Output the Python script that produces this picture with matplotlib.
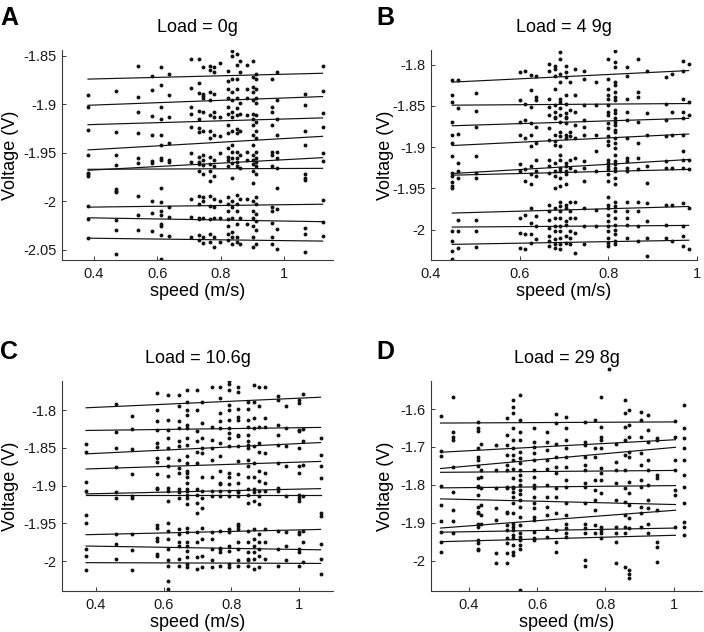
import matplotlib
matplotlib.use('Agg')
import matplotlib.pyplot as plt
from matplotlib.ticker import FuncFormatter

plt.rcParams['font.family'] = ['Liberation Sans', 'DejaVu Sans']
plt.rcParams['axes.unicode_minus'] = False

# ---------------- Panel A : Load = 0g ----------------
A_SPEED = [0.382, 0.47, 0.54, 0.584, 0.613, 0.636, 0.708, 0.731, 0.746, 0.768, 0.778,
           0.799, 0.825, 0.836, 0.852, 0.862, 0.883, 0.902, 0.912, 0.962, 0.978, 1.065, 1.122]
A_VOLT = [
    [-1.890, -1.903, -1.926, -1.952, -1.971, -1.972, -1.974, -2.005, -2.018, -2.038],
    [-1.886, -1.929, -1.952, -1.963, -1.987, -1.989, -1.990, -2.019, -2.030, -2.054],
    [-1.861, -1.892, -1.908, -1.930, -1.955, -1.960, -1.995, -2.014, -2.030],
    [-1.871, -1.885, -1.912, -1.932, -1.958, -1.960, -2.000, -2.012, -2.031],
    [-1.862, -1.880, -1.903, -1.915, -1.932, -1.942, -1.955, -1.957, -1.986, -2.001, -2.010,
     -2.014, -2.023, -2.025, -2.035, -2.059],
    [-1.869, -1.890, -1.913, -1.940, -1.957, -1.959, -2.006, -2.016, -2.036],
    [-1.853, -1.883, -1.903, -1.910, -1.923, -1.950, -1.959, -1.998, -2.016, -2.037],
    [-1.853, -1.878, -1.888, -1.907, -1.915, -1.924, -1.929, -1.954, -1.959, -1.962, -1.969,
     -1.995, -2.003, -2.017, -2.018, -2.035, -2.040],
    [-1.862, -1.889, -1.891, -1.894, -1.908, -1.927, -1.952, -1.957, -1.963, -1.972, -1.996,
     -2.000, -2.017, -2.037, -2.043],
    [-1.860, -1.865, -1.887, -1.896, -1.911, -1.928, -1.935, -1.954, -1.962, -1.969, -1.979,
     -1.995, -2.005, -2.018, -2.034, -2.042],
    [-1.862, -1.867, -1.889, -1.908, -1.913, -1.932, -1.957, -1.964, -1.974, -1.998, -2.006,
     -2.017, -2.037, -2.047],
    [-1.857, -1.913, -1.933, -1.950, -2.000, -2.017, -2.042],
    [-1.866, -1.876, -1.884, -1.894, -1.903, -1.910, -1.921, -1.930, -1.945, -1.954, -1.957,
     -1.964, -1.996, -2.003, -2.010, -2.018, -2.025, -2.034, -2.040],
    [-1.845, -1.850, -1.874, -1.887, -1.896, -1.908, -1.913, -1.927, -1.942, -1.949, -1.955,
     -1.961, -1.976, -2.000, -2.006, -2.017, -2.032, -2.037, -2.044],
    [-1.848, -1.859, -1.874, -1.884, -1.894, -1.904, -1.911, -1.925, -1.930, -1.949, -1.955,
     -1.959, -1.964, -1.993, -2.003, -2.010, -2.023, -2.037, -2.042],
    [-1.855, -1.867, -1.899, -1.910, -1.927, -1.952, -1.966, -1.998, -2.017, -2.044],
    [-1.859, -1.884, -1.893, -1.911, -1.949, -1.957, -1.998, -2.023],
    [-1.855, -1.872, -1.882, -1.887, -1.896, -1.910, -1.915, -1.921, -1.932, -1.942, -1.952,
     -1.957, -1.962, -1.969, -1.981, -2.000, -2.010, -2.017, -2.025, -2.037, -2.047],
    [-1.869, -1.874, -1.884, -1.893, -1.899, -1.911, -1.918, -1.928, -1.935, -1.949, -1.955,
     -1.959, -1.964, -1.972, -1.996, -2.003, -2.013, -2.020, -2.030, -2.044],
    [-1.874, -1.903, -1.908, -1.921, -1.949, -1.952, -1.964, -2.006, -2.010, -2.022, -2.037, -2.044],
    [-1.867, -1.896, -1.915, -1.932, -1.949, -1.955, -1.966, -1.986, -2.008, -2.029, -2.049],
    [-1.889, -1.901, -1.928, -1.942, -1.972, -1.976, -1.978, -2.027, -2.034, -2.052],
    [-1.861, -1.886, -1.909, -1.923, -1.950, -1.958, -1.999, -2.021, -2.036],
]
A_FIT_X = [0.382, 1.122]
A_FIT_START = [-1.874, -1.901, -1.921, -1.947, -1.968, -1.967, -2.006, -2.017, -2.038]
A_FIT_END = [-1.868, -1.892, -1.914, -1.933, -1.955, -1.966, -2.003, -2.021, -2.041]

# ---------------- Panel B : Load = 4.9g ----------------
B_SPEED = [0.448, 0.462, 0.501, 0.600, 0.612, 0.625, 0.637, 0.665, 0.680, 0.690, 0.705, 0.714,
           0.725, 0.745, 0.771, 0.798, 0.816, 0.843, 0.866, 0.886, 0.930, 0.944, 0.968, 0.981]
B_VOLT = [
    [-1.818, -1.837, -1.845, -1.869, -1.885, -1.895, -1.911, -1.931, -1.935, -1.942, -1.947,
     -1.949, -2.002, -2.014, -2.026, -2.036],
    [-1.819, -1.852, -1.884, -1.919, -1.929, -1.937, -1.989, -2.002, -2.022],
    [-1.834, -1.856, -1.876, -1.911, -1.931, -1.937, -1.989, -2.002, -2.021],
    [-1.809, -1.843, -1.869, -1.885, -1.921, -1.929, -1.986, -2.004, -2.022],
    [-1.807, -1.848, -1.867, -1.889, -1.927, -1.941, -1.982, -2.006, -2.024],
    [-1.812, -1.830, -1.851, -1.871, -1.885, -1.899, -1.923, -1.933, -1.945, -1.974, -1.992,
     -2.006, -2.016],
    [-1.813, -1.839, -1.843, -1.875, -1.895, -1.915, -1.929, -1.935, -1.984, -1.996, -2.012],
    [-1.799, -1.808, -1.841, -1.851, -1.861, -1.877, -1.891, -1.915, -1.923, -1.931, -1.970,
     -1.978, -1.988, -1.998, -2.008, -2.014, -2.020],
    [-1.801, -1.805, -1.813, -1.829, -1.849, -1.857, -1.863, -1.865, -1.885, -1.893, -1.897,
     -1.919, -1.929, -1.935, -1.949, -1.974, -1.986, -1.996, -2.002, -2.012, -2.018, -2.022],
    [-1.785, -1.793, -1.811, -1.821, -1.841, -1.845, -1.853, -1.861, -1.869, -1.881, -1.887,
     -1.899, -1.909, -1.915, -1.925, -1.929, -1.937, -1.947, -1.966, -1.972, -1.978, -1.986,
     -1.996, -2.002, -2.010, -2.018, -2.024],
    [-1.801, -1.809, -1.815, -1.837, -1.847, -1.859, -1.863, -1.865, -1.871, -1.885, -1.889,
     -1.919, -1.923, -1.929, -1.933, -1.945, -1.970, -1.974, -1.990, -1.994, -2.008, -2.016],
    [-1.821, -1.855, -1.881, -1.887, -1.915, -1.925, -1.966, -1.978, -1.986, -2.002, -2.010, -2.018],
    [-1.805, -1.837, -1.857, -1.873, -1.889, -1.913, -1.929, -1.966, -1.986, -2.004, -2.028],
    [-1.808, -1.817, -1.849, -1.867, -1.875, -1.885, -1.917, -1.925, -1.941, -1.974, -1.996, -2.018],
    [-1.821, -1.849, -1.885, -1.905, -1.929, -1.976, -1.996],
    [-1.793, -1.817, -1.829, -1.837, -1.841, -1.849, -1.857, -1.861, -1.871, -1.877, -1.887,
     -1.893, -1.897, -1.915, -1.919, -1.923, -1.927, -1.933, -1.941, -1.960, -1.970, -1.974,
     -1.982, -1.990, -1.996, -2.002, -2.010, -2.016, -2.020],
    [-1.783, -1.797, -1.803, -1.821, -1.825, -1.833, -1.839, -1.843, -1.855, -1.859, -1.865,
     -1.869, -1.873, -1.879, -1.881, -1.889, -1.895, -1.901, -1.909, -1.917, -1.921, -1.925,
     -1.929, -1.937, -1.945, -1.966, -1.972, -1.978, -1.986, -1.994, -2.000, -2.006, -2.014, -2.018],
    [-1.803, -1.813, -1.841, -1.857, -1.867, -1.889, -1.913, -1.917, -1.925, -1.929, -1.966,
     -1.978, -1.986, -1.994, -2.010],
    [-1.793, -1.833, -1.839, -1.869, -1.895, -1.913, -1.927, -1.966, -1.978, -1.996, -2.014],
    [-1.807, -1.859, -1.885, -1.923, -1.943, -1.968, -1.990, -2.010, -2.032],
    [-1.815, -1.847, -1.867, -1.887, -1.917, -1.925, -1.970, -1.994, -2.010],
    [-1.811, -1.857, -1.885, -1.925, -1.970, -2.014],
    [-1.795, -1.807, -1.841, -1.857, -1.865, -1.885, -1.905, -1.915, -1.925, -1.968, -1.996,
     -2.008, -2.020],
    [-1.799, -1.845, -1.861, -1.915, -1.927, -1.974, -2.024],
]
B_FIT_X = [0.448, 0.981]
B_FIT_START = [-1.821, -1.849, -1.874, -1.898, -1.932, -1.934, -1.980, -1.997, -2.018]
B_FIT_END = [-1.807, -1.847, -1.865, -1.884, -1.915, -1.927, -1.972, -1.995, -2.013]

# ---------------- Panel C : Load = 10.6g ----------------
C_SPEED = [0.371, 0.459, 0.508, 0.581, 0.612, 0.645, 0.668, 0.697, 0.712, 0.744, 0.765, 0.792,
           0.819, 0.848, 0.868, 0.880, 0.898, 0.937, 0.961, 0.998, 1.011, 1.063]
C_VOLT = [
    [-1.845, -1.855, -1.895, -1.907, -1.939, -1.950, -1.984, -1.993, -2.012],
    [-1.792, -1.829, -1.850, -1.876, -1.909, -1.916, -1.964, -1.977, -1.997],
    [-1.808, -1.825, -1.852, -1.885, -1.914, -1.916, -1.964, -1.985, -2.012],
    [-1.777, -1.800, -1.814, -1.826, -1.844, -1.849, -1.863, -1.869, -1.885, -1.903, -1.905,
     -1.952, -1.956, -1.969, -1.973, -1.991, -1.993],
    [-1.780, -1.813, -1.826, -1.837, -1.850, -1.863, -1.874, -1.887, -1.903, -1.907, -1.920,
     -1.949, -1.960, -1.971, -1.984, -1.999, -2.006, -2.026, -2.037],
    [-1.780, -1.795, -1.815, -1.824, -1.841, -1.848, -1.866, -1.877, -1.883, -1.905, -1.909,
     -1.916, -1.958, -1.964, -1.975, -1.980, -1.997, -2.006],
    [-1.774, -1.789, -1.800, -1.806, -1.820, -1.824, -1.837, -1.846, -1.861, -1.870, -1.881,
     -1.883, -1.888, -1.896, -1.905, -1.907, -1.912, -1.916, -1.925, -1.956, -1.962, -1.975,
     -1.980, -1.986, -1.995, -2.004, -2.008],
    [-1.774, -1.800, -1.828, -1.841, -1.855, -1.870, -1.905, -1.912, -1.923, -1.936, -1.962,
     -1.975, -1.995, -2.010],
    [-1.789, -1.817, -1.837, -1.850, -1.857, -1.888, -1.907, -1.916, -1.929, -1.956, -1.971,
     -1.993, -2.008],
    [-1.769, -1.822, -1.839, -1.850, -1.866, -1.888, -1.907, -1.914, -1.962, -1.971, -1.984,
     -1.999, -2.008],
    [-1.769, -1.784, -1.804, -1.815, -1.824, -1.844, -1.861, -1.881, -1.896, -1.898, -1.907,
     -1.914, -1.960, -1.982, -1.984, -1.988, -2.006],
    [-1.762, -1.765, -1.774, -1.793, -1.800, -1.813, -1.824, -1.830, -1.837, -1.848, -1.883,
     -1.888, -1.898, -1.907, -1.914, -1.958, -1.962, -1.980, -1.986, -2.004, -2.008],
    [-1.769, -1.776, -1.798, -1.809, -1.813, -1.833, -1.835, -1.848, -1.868, -1.885, -1.896,
     -1.907, -1.909, -1.914, -1.951, -1.953, -1.958, -1.975, -1.984, -1.999, -2.006],
    [-1.789, -1.798, -1.813, -1.822, -1.833, -1.841, -1.846, -1.850, -1.866, -1.874, -1.888,
     -1.905, -1.912, -1.923, -1.960, -1.975, -1.988, -1.997, -1.999, -2.006],
    [-1.767, -1.789, -1.811, -1.824, -1.848, -1.870, -1.888, -1.905, -1.909, -1.920, -1.958,
     -1.971, -1.980, -1.988, -1.997, -2.010],
    [-1.769, -1.795, -1.822, -1.844, -1.855, -1.881, -1.894, -1.907, -1.914, -1.925, -1.964,
     -1.975, -1.984, -1.993, -2.008],
    [-1.769, -1.811, -1.822, -1.857, -1.883, -1.896, -1.907, -1.958, -1.975, -1.997],
    [-1.782, -1.787, -1.820, -1.833, -1.846, -1.870, -1.903, -1.907, -1.960, -1.984, -2.006],
    [-1.795, -1.824, -1.848, -1.874, -1.914, -1.962, -1.980, -1.999],
    [-1.787, -1.791, -1.826, -1.828, -1.850, -1.874, -1.883, -1.912, -1.916, -1.920, -1.962,
     -1.964, -1.984, -1.988, -2.006],
    [-1.779, -1.825, -1.841, -1.873, -1.914, -1.960, -1.975, -2.001],
    [-1.837, -1.859, -1.874, -1.890, -1.936, -1.940, -1.977, -1.997, -2.017],
]
C_FIT_X = [0.371, 1.063]
C_FIT_START = [-1.797, -1.827, -1.858, -1.878, -1.911, -1.913, -1.965, -1.980, -2.002]
C_FIT_END = [-1.783, -1.823, -1.843, -1.868, -1.904, -1.913, -1.958, -1.985, -2.003]

# ---------------- Panel D : Load = 29.8g ----------------
D_SPEED = [0.317, 0.353, 0.426, 0.436, 0.478, 0.512, 0.529, 0.549, 0.590, 0.630, 0.656, 0.685,
           0.740, 0.769, 0.788, 0.832, 0.856, 0.868, 0.905, 0.925, 0.952, 1.005, 1.030]
D_VOLT = [
    [-1.619, -1.710, -1.723, -1.802, -1.853, -1.896, -1.924, -1.950, -1.978],
    [-1.568, -1.660, -1.673, -1.682, -1.754, -1.818, -1.867, -1.896, -1.926],
    [-1.633, -1.651, -1.657, -1.702, -1.726, -1.735, -1.750, -1.783, -1.802, -1.807, -1.827,
     -1.858, -1.871, -1.875, -1.902, -1.911, -1.946, -1.953, -1.968, -1.972],
    [-1.691, -1.761, -1.779, -1.809, -1.853, -1.880, -1.902],
    [-1.695, -1.761, -1.808, -1.860, -1.893, -1.979, -2.006],
    [-1.625, -1.669, -1.695, -1.721, -1.748, -1.761, -1.805, -1.809, -1.871, -1.875, -1.906,
     -1.919, -1.941, -1.953, -1.981, -2.006],
    [-1.576, -1.594, -1.611, -1.651, -1.682, -1.704, -1.721, -1.735, -1.757, -1.783, -1.805,
     -1.809, -1.818, -1.831, -1.849, -1.875, -1.902, -1.911, -1.919, -1.932, -1.939, -1.959,
     -1.976, -1.985],
    [-1.563, -1.629, -1.660, -1.682, -1.713, -1.730, -1.743, -1.761, -1.774, -1.787, -1.801,
     -1.814, -1.823, -1.840, -1.858, -1.884, -1.906, -1.928, -1.937, -1.946, -1.959, -1.968, -2.078],
    [-1.651, -1.686, -1.699, -1.717, -1.735, -1.761, -1.779, -1.801, -1.809, -1.831, -1.849,
     -1.862, -1.884, -1.893, -1.924, -1.941, -1.946],
    [-1.660, -1.686, -1.708, -1.735, -1.757, -1.801, -1.831, -1.858, -1.880, -1.915, -1.937],
    [-1.614, -1.638, -1.691, -1.726, -1.752, -1.770, -1.809, -1.831, -1.875, -1.919, -1.950, -1.976],
    [-1.620, -1.651, -1.682, -1.704, -1.726, -1.752, -1.787, -1.805, -1.849, -1.880, -1.902,
     -1.915, -1.928, -1.937],
    [-1.633, -1.686, -1.695, -1.726, -1.748, -1.761, -1.796, -1.805, -1.849, -1.902, -1.915,
     -1.928, -1.998, -2.014],
    [-1.629, -1.704, -1.726, -1.787, -1.814, -1.840, -1.866, -1.906, -1.928],
    [-1.567, -1.647, -1.673, -1.682, -1.704, -1.756, -1.770, -1.787, -1.822, -1.910, -1.919,
     -1.928, -1.941],
    [-1.691, -1.739, -1.761, -1.796, -1.840, -1.910, -1.928, -1.950, -2.007],
    [-1.576, -1.611, -1.647, -1.682, -1.721, -1.761, -1.809, -1.844, -1.880, -1.910, -1.928, -2.016],
    [-1.603, -1.642, -1.673, -1.713, -1.726, -1.792, -1.822, -1.853, -1.888, -1.915, -2.025,
     -2.034, -2.047],
    [-1.607, -1.629, -1.673, -1.717, -1.748, -1.787, -1.805, -1.858, -1.875, -1.910],
    [-1.616, -1.655, -1.686, -1.735, -1.761, -1.800, -1.840, -1.862, -1.902, -1.928],
    [-1.677, -1.682, -1.774, -1.783, -1.866, -1.950, -1.963, -2.003],
    [-1.631, -1.673, -1.735, -1.761, -1.814, -1.827, -1.910],
    [-1.589, -1.651, -1.677, -1.704, -1.735, -1.774, -1.805, -1.849, -1.897, -1.910, -1.932],
]
D_OUTLIER = (0.81, -1.494)
D_FIT_X = [0.317, 1.005]
D_FIT_START = [-1.637, -1.714, -1.757, -1.767, -1.808, -1.837, -1.914, -1.925, -1.950]
D_FIT_END = [-1.634, -1.681, -1.701, -1.762, -1.802, -1.852, -1.867, -1.914, -1.933]

INK = '#111111'
AXC = '#3a3a3a'
MS = 2.8


def fmt(v, pos):
    return f'{v:g}'


def draw_panel(ax, speeds, volts, fit_x, fit_start, fit_end, title, xlim, ylim, yticks,
               ylab_x):
    for s, col in zip(speeds, volts):
        ax.plot([s] * len(col), col, 'o', ms=MS, color=INK, mec='none')
    for a, b in zip(fit_start, fit_end):
        ax.plot(fit_x, [a, b], color=INK, lw=0.85)

    ax.set_xlim(xlim)
    ax.set_ylim(ylim)
    ax.set_xticks([0.4, 0.6, 0.8, 1.0])
    ax.set_yticks(yticks)
    ax.xaxis.set_major_formatter(FuncFormatter(fmt))
    ax.yaxis.set_major_formatter(FuncFormatter(fmt))
    for side in ['top', 'right']:
        ax.spines[side].set_visible(False)
    for side in ['left', 'bottom']:
        ax.spines[side].set_color(AXC)
        ax.spines[side].set_linewidth(0.8)
    ax.tick_params(direction='in', length=3, width=0.7, color=AXC,
                   labelsize=10.5, labelcolor='#1a1a1a')
    ax.tick_params(axis='y', pad=4)
    ax.tick_params(axis='x', pad=5)
    ax.set_title(title, fontsize=13, pad=13)
    ax.set_xlabel('speed (m/s)', fontsize=13)
    ax.set_ylabel('Voltage (V)', fontsize=13)
    ax.xaxis.set_label_coords(0.5, -0.11)
    ax.yaxis.set_label_coords(ylab_x, 0.5)


fig = plt.figure(figsize=(7.04, 6.32), dpi=100)
W = 0.385
H = 0.3323
axA = fig.add_axes([0.0881, 0.5886, W, H])
axB = fig.add_axes([0.6122, 0.5886, 0.378, H])
axC = fig.add_axes([0.0881, 0.0649, W, H])
axD = fig.add_axes([0.6122, 0.0649, W, H])

draw_panel(axA, A_SPEED, A_VOLT, A_FIT_X, A_FIT_START, A_FIT_END, 'Load = 0g',
           (0.3, 1.155), (-2.0605, -1.844), [-2.05, -2.0, -1.95, -1.9, -1.85], -0.158)
draw_panel(axB, B_SPEED, B_VOLT, B_FIT_X, B_FIT_START, B_FIT_END, 'Load = 4 9g',
           (0.4, 1.0), (-2.037, -1.782), [-2.0, -1.95, -1.9, -1.85, -1.8], -0.14)
draw_panel(axC, C_SPEED, C_VOLT, C_FIT_X, C_FIT_START, C_FIT_END, 'Load = 10.6g',
           (0.3, 1.1), (-2.0395, -1.7615), [-2.0, -1.95, -1.9, -1.85, -1.8], -0.158)
draw_panel(axD, D_SPEED, D_VOLT, D_FIT_X, D_FIT_START, D_FIT_END, 'Load = 29 8g',
           (0.289, 1.083), (-2.08, -1.526), [-2.0, -1.9, -1.8, -1.7, -1.6], -0.137)
axD.plot([D_OUTLIER[0]], [D_OUTLIER[1]], 'o', ms=MS, color=INK, mec='none', clip_on=False)

for letter, x, y in [('A', 0.0, 0.99), ('B', 0.535, 0.99), ('C', 0.0, 0.462), ('D', 0.535, 0.462)]:
    fig.text(x, y, letter, fontsize=18, fontweight='bold', ha='left', va='top')

fig.savefig('out.png', dpi=100)
